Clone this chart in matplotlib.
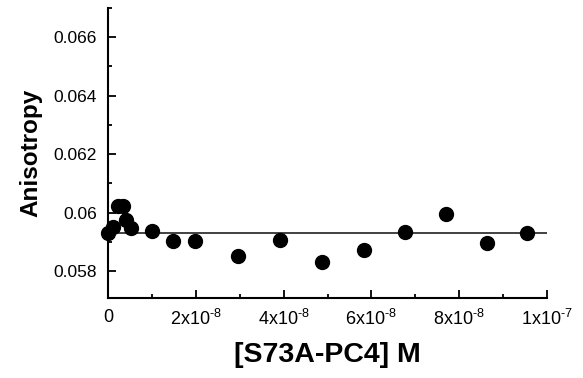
import numpy as np
import matplotlib.pyplot as plt
from matplotlib.ticker import MultipleLocator, FixedLocator

plt.rcParams['font.family'] = ['Liberation Sans', 'DejaVu Sans']
plt.rcParams['mathtext.fontset'] = 'custom'
plt.rcParams['mathtext.rm'] = 'Liberation Sans'

# concentration (M) and measured anisotropy
conc = [0.0, 1.2e-9, 2.35e-9, 3.35e-9, 4.1e-9, 5.2e-9, 1.0e-8, 1.49e-8, 1.98e-8,
        2.97e-8, 3.92e-8, 4.87e-8, 5.82e-8, 6.77e-8, 7.69e-8, 8.63e-8, 9.54e-8]
aniso = [0.05929, 0.05951, 0.06022, 0.06022, 0.05974, 0.05949, 0.05937, 0.05904, 0.05904,
         0.05851, 0.05906, 0.05832, 0.05872, 0.05934, 0.05995, 0.05895, 0.05932]
fit_level = 0.05932

xticks = [0, 2e-8, 4e-8, 6e-8, 8e-8, 1e-7]
xticklabels = ['0', r'$\mathregular{2x10^{\text{-}8}}$', r'$\mathregular{4x10^{\text{-}8}}$',
               r'$\mathregular{6x10^{\text{-}8}}$', r'$\mathregular{8x10^{\text{-}8}}$',
               r'$\mathregular{1x10^{\text{-}7}}$']
yticks = [0.058, 0.06, 0.062, 0.064, 0.066]
yticklabels = ['0.058', '0.06', '0.062', '0.064', '0.066']

fig = plt.figure(figsize=(5.83, 3.78), dpi=100)
ax = fig.add_axes([0.1852, 0.2116, 0.7531, 0.7672])

ax.plot([0, 1e-7], [fit_level, fit_level], color='#333333', lw=1.3, zorder=2)
ax.plot(conc, aniso, 'o', color='black', ms=10, clip_on=False, zorder=3)

ax.set_xlim(0, 1e-7)
ax.set_ylim(0.05708, 0.067)

ax.spines['top'].set_visible(False)
ax.spines['right'].set_visible(False)
ax.spines['left'].set_linewidth(1.5)
ax.spines['bottom'].set_linewidth(1.5)

ax.xaxis.set_major_locator(FixedLocator(xticks))
ax.set_xticklabels(xticklabels)
ax.xaxis.set_minor_locator(MultipleLocator(1e-8))
ax.yaxis.set_major_locator(FixedLocator(yticks))
ax.set_yticklabels(yticklabels)
ax.yaxis.set_minor_locator(MultipleLocator(0.001))

ax.tick_params(which='both', direction='in', width=1.3)
ax.tick_params(axis='y', labelsize=12.5)
ax.tick_params(axis='x', labelsize=13)
ax.tick_params(which='major', length=6, pad=8)
ax.tick_params(which='minor', length=3)

ax.set_xlabel('[S73A-PC4] M', fontsize=20.5, fontweight='bold', labelpad=9)
ax.set_ylabel('Anisotropy', fontsize=17.5, fontweight='bold', labelpad=8)

fig.savefig('out.png', dpi=100)
